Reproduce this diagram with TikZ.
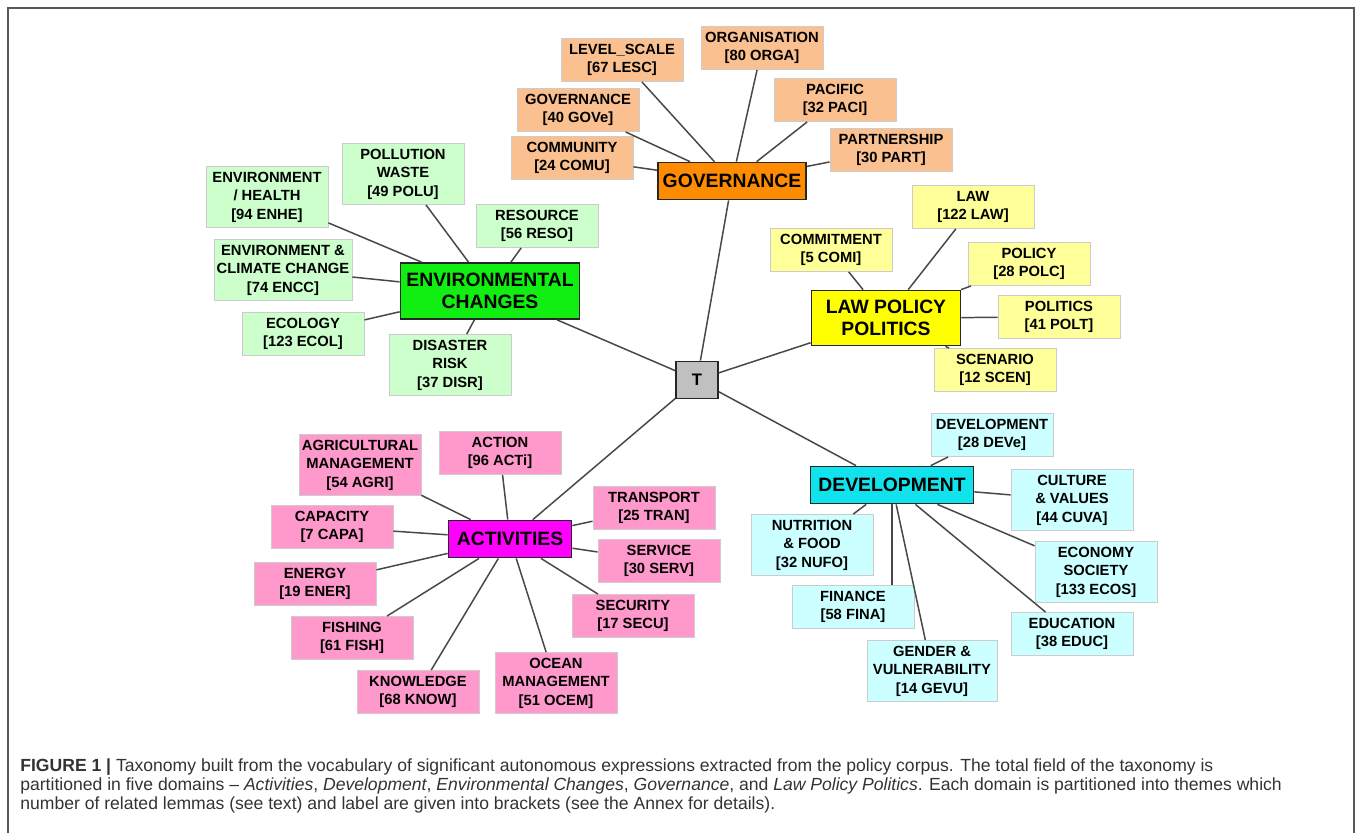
\documentclass[tikz,border=0pt]{standalone}
\usepackage{fontspec}
\setmainfont{Liberation Sans}
\usetikzlibrary{positioning}
\definecolor{govlight}{HTML}{FAC090}
\definecolor{govdark}{HTML}{FF8C00}
\definecolor{envlight}{HTML}{CCFFCC}
\definecolor{envdark}{HTML}{11EE11}
\definecolor{lawlight}{HTML}{FFFF99}
\definecolor{lawdark}{HTML}{FFFF00}
\definecolor{actlight}{HTML}{FF99CC}
\definecolor{actdark}{HTML}{FF00FF}
\definecolor{devlight}{HTML}{CCFFFF}
\definecolor{devdark}{HTML}{11E3EC}
\definecolor{tgray}{HTML}{C0C0C0}
\definecolor{linkgray}{HTML}{484848}
\definecolor{capgray}{HTML}{333333}
\newcommand{\tcode}[1]{[#1]}

\begin{document}
\begin{tikzpicture}[x=0.02cm,y=-0.02cm,
  theme/.style={draw=black!20,line width=0.5pt,minimum width=2.44cm,minimum height=0.86cm,
    inner sep=1pt,align=center,font=\bfseries\fontsize{8.4}{10.6}\selectfont},
  tall/.style={minimum height=1.22cm},
  govt/.style={theme,fill=govlight},
  envt/.style={theme,fill=envlight},
  lawt/.style={theme,fill=lawlight},
  actt/.style={theme,fill=actlight},
  devt/.style={theme,fill=devlight},
  dombox/.style={draw=black!85,line width=1pt,minimum height=0.74cm,inner sep=2pt,
    align=center,font=\bfseries\fontsize{11}{12.5}\selectfont},
  link/.style={draw=linkgray,line width=0.85pt},
  captext/.style={anchor=base west,inner sep=0pt,text=capgray,font=\fontsize{10}{12}\selectfont}]
\useasboundingbox (0,0) rectangle (1358,833);
% frame
\draw[black!65,line width=1pt] (8,833) -- (8,8) -- (1354,8) -- (1354,833);
%
% governance
\node (gov) [dombox,fill=govdark,minimum width=2.96cm] at (732,181) {GOVERNANCE};
\node (comu) [govt] at (572,158) {COMMUNITY\\\tcode{24 COMU}};
\node (gove) [govt] at (578,110) {GOVERNANCE\\\tcode{40 GOVe}};
\node (lesc) [govt] at (622,60) {LEVEL\_SCALE\\\tcode{67 LESC}};
\node (orga) [govt] at (762,48) {ORGANISATION\\\tcode{80 ORGA}};
\node (paci) [govt] at (835,100) {PACIFIC\\\tcode{32 PACI}};
\node (part) [govt] at (891,150) {PARTNERSHIP\\\tcode{30 PART}};
% environmental changes
\node (env) [dombox,fill=envdark,minimum width=3.58cm,minimum height=1.12cm] at (490,291) {ENVIRONMENTAL\\CHANGES};
\node (enhe) [envt,tall] at (267,197) {ENVIRONMENT\\/ HEALTH\\\tcode{94 ENHE}};
\node (polu) [envt,tall] at (403,174) {POLLUTION\\WASTE\\\tcode{49 POLU}};
\node (reso) [envt] at (537,226) {RESOURCE\\\tcode{56 RESO}};
\node (encc) [envt,tall,minimum width=2.76cm] at (283,270) {ENVIRONMENT \&\\CLIMATE CHANGE\\\tcode{74 ENCC}};
\node (ecol) [envt] at (303,334) {ECOLOGY\\\tcode{123 ECOL}};
\node (disr) [envt,tall] at (450,365) {DISASTER\\RISK\\\tcode{37 DISR}};
% law policy politics
\node (law) [dombox,fill=lawdark,minimum width=2.98cm,minimum height=1.1cm] at (886,318) {LAW POLICY\\POLITICS};
\node (lawl) [lawt] at (973,207) {LAW\\\tcode{122 LAW}};
\node (comi) [lawt] at (831,250) {COMMITMENT\\\tcode{5 COMI}};
\node (polc) [lawt] at (1029,264) {POLICY\\\tcode{28 POLC}};
\node (polt) [lawt] at (1059,317) {POLITICS\\\tcode{41 POLT}};
\node (scen) [lawt] at (995,370) {SCENARIO\\\tcode{12 SCEN}};
% root
\node (t) [dombox,fill=tgray,minimum width=0.84cm,font=\bfseries\fontsize{9.5}{11}\selectfont] at (697,380) {T};
% activities
\node (act) [dombox,fill=actdark,minimum width=2.46cm] at (510,539) {ACTIVITIES};
\node (agri) [actt,tall] at (360,465) {AGRICULTURAL\\MANAGEMENT\\\tcode{54 AGRI}};
\node (acti) [actt] at (500,453) {ACTION\\\tcode{96 ACTi}};
\node (capa) [actt] at (332,527) {CAPACITY\\\tcode{7 CAPA}};
\node (ener) [actt] at (315,584) {ENERGY\\\tcode{19 ENER}};
\node (fish) [actt] at (352,638) {FISHING\\\tcode{61 FISH}};
\node (know) [actt] at (418,692) {KNOWLEDGE\\\tcode{68 KNOW}};
\node (ocem) [actt,tall] at (556,683) {OCEAN\\MANAGEMENT\\\tcode{51 OCEM}};
\node (secu) [actt] at (633,616) {SECURITY\\\tcode{17 SECU}};
\node (serv) [actt] at (659,561) {SERVICE\\\tcode{30 SERV}};
\node (tran) [actt] at (654,508) {TRANSPORT\\\tcode{25 TRAN}};
% development
\node (dev) [dombox,fill=devdark,minimum width=3.26cm] at (892,485) {DEVELOPMENT};
\node (deve) [devt] at (992,435) {DEVELOPMENT\\\tcode{28 DEVe}};
\node (cuva) [devt,tall] at (1072,500) {CULTURE\\\& VALUES\\\tcode{44 CUVA}};
\node (nufo) [devt,tall] at (812,545) {NUTRITION\\\& FOOD\\\tcode{32 NUFO}};
\node (ecos) [devt,tall] at (1096,572) {ECONOMY\\SOCIETY\\\tcode{133 ECOS}};
\node (fina) [devt] at (853,607) {FINANCE\\\tcode{58 FINA}};
\node (educ) [devt] at (1072,634) {EDUCATION\\\tcode{38 EDUC}};
\node (gevu) [devt,tall,minimum width=2.6cm] at (932,671) {GENDER \&\\VULNERABILITY\\\tcode{14 GEVU}};
%
\path[link] (t) edge (gov) edge (env) edge (law) edge (act) edge (dev);
\path[link] (gov) edge (comu) edge (gove) edge (lesc) edge (orga) edge (paci) edge (part);
\path[link] (env) edge (enhe) edge (polu) edge (reso) edge (encc) edge (ecol) edge (disr);
\path[link] (law) edge (lawl) edge (comi) edge (polc) edge (polt) edge (scen);
\path[link] (act) edge (agri) edge (acti) edge (capa) edge (ener) edge (fish)
  edge (know) edge (ocem) edge (secu) edge (serv) edge (tran);
\path[link] (dev) edge (deve) edge (cuva) edge (nufo) edge (ecos) edge (educ) edge (gevu);
\draw[link] (dev.south) -- (dev.south |- fina.north);
%
% caption
\node (cap1) [captext] at (20,771) {\textbf{FIGURE 1 |} Taxonomy built from the vocabulary of significant autonomous expressions extracted from the policy corpus. The total field of the taxonomy is};
\node (cap2) [captext] at (20,790) {partitioned in five domains – \textit{Activities}, \textit{Development}, \textit{Environmental Changes}, \textit{Governance}, and \textit{Law Policy Politics}. Each domain is partitioned into themes which};
\node (cap3) [captext] at (20,809) {number of related lemmas (see text) and label are given into brackets (see the Annex for details).};
\end{tikzpicture}
\end{document}
